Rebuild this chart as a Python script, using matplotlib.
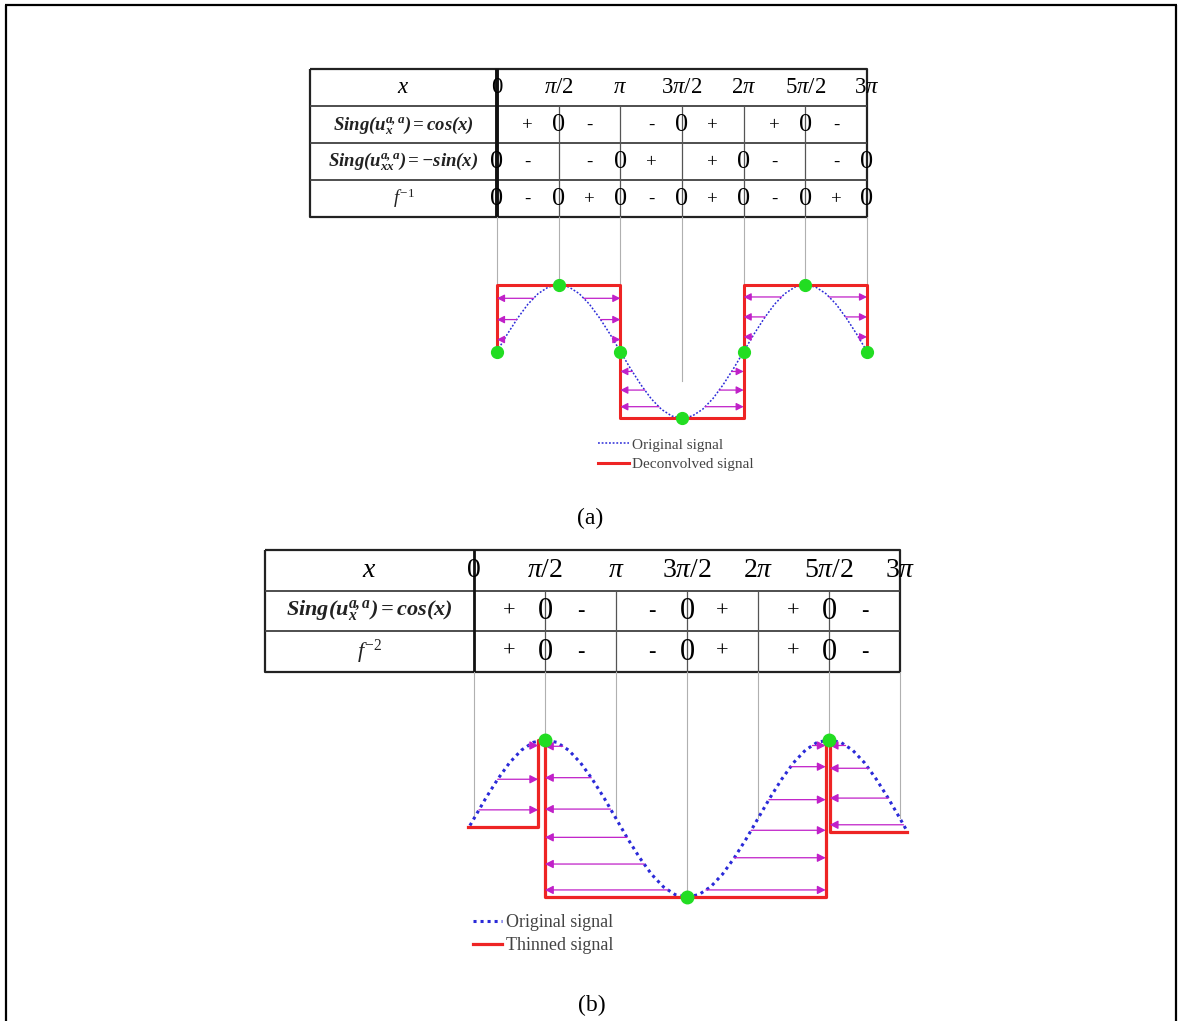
import numpy as np
import matplotlib
matplotlib.use('Agg')
import matplotlib.pyplot as plt

plt.rcParams['font.family'] = ['Liberation Serif', 'DejaVu Serif']
plt.rcParams['mathtext.fontset'] = 'custom'
plt.rcParams['mathtext.rm'] = 'Liberation Serif'
plt.rcParams['mathtext.it'] = 'Liberation Serif:italic'
plt.rcParams['mathtext.bf'] = 'Liberation Serif:bold:italic'

PI = np.pi
W, H = 1178, 1021

# ---------------- data ----------------
tick_pos = [0, PI / 2, PI, 3 * PI / 2, 2 * PI, 5 * PI / 2, 3 * PI]
tick_labels = ['0', r'$\pi/2$', r'$\pi$', r'$3\pi/2$', r'$2\pi$', r'$5\pi/2$', r'$3\pi$']

# sign table entries, positions in units of pi/4
cos_pos = [1, 2, 3, 5, 6, 7, 9, 10, 11]
cos_sym = ['+', '0', '-', '-', '0', '+', '+', '0', '-']
msin_pos = [0, 1, 3, 4, 5, 7, 8, 9, 11, 12]
msin_sym = ['0', '-', '-', '0', '+', '+', '0', '-', '-', '0']
f1_pos = [0, 1, 2, 3, 4, 5, 6, 7, 8, 9, 10, 11, 12]
f1_sym = ['0', '-', '0', '+', '0', '-', '0', '+', '0', '-', '0', '+', '0']
f2_pos = [1, 2, 3, 5, 6, 7, 9, 10, 11]
f2_sym = ['+', '0', '-', '-', '0', '+', '+', '0', '-']

lab_x = r'$x$'
lab_cos = r'$\mathbf{Sing(u}_{\mathbf{x}}^{\mathbf{a,a}}\mathbf{)=cos(x)}$'
lab_msin = r'$\mathbf{Sing(u}_{\mathbf{xx}}^{\mathbf{a,a}}\mathbf{)=-sin(x)}$'
lab_f1 = r'$f^{-1}$'
lab_f2 = r'$f^{-2}$'

# original signal samples (x in units of pi/12)
sig_k = list(range(37))
sig_y = [0, .26, .5, .71, .87, .97, 1, .97, .87, .71, .5, .26,
         0, -.26, -.5, -.71, -.87, -.97, -1, -.97, -.87, -.71, -.5, -.26,
         0, .26, .5, .71, .87, .97, 1, .97, .87, .71, .5, .26, 0]
# panel (b) curve runs slightly past both ends
sigb_start = (-0.09, -0.09)
sigb_end = (9.58, -0.16)

# deconvolved signal (a)
dec_x = [0, 0, PI, PI, 2 * PI, 2 * PI, 3 * PI, 3 * PI]
dec_y = [0, 1, 1, -1, -1, 1, 1, 0]
# thinned signal (b)
thin_x = [-0.13, 1.42, 1.42, 1.57, 1.57, 7.78, 7.78, 7.87, 7.87, 9.58]
thin_y = [-0.11, -0.11, 1, 1, -1, -1, 1, 1, -0.17, -0.17]

# green extremum / zero points
dots_a_x = [0, PI / 2, PI, 3 * PI / 2, 2 * PI, 5 * PI / 2, 3 * PI]
dots_a_y = [0, 1, 0, -1, 0, 1, 0]
dots_b_x = [PI / 2, 3 * PI / 2, 5 * PI / 2]
dots_b_y = [1, -1, 1]

# guide line end values
guide_a_end = [1, 1, 1, -0.45, 1, 1, 1]
guide_b_end = [0, 1, 0, -1, 0, 1, 0]

# arrows: (segment lo, hi, target x, levels)
arrows_a = [
    (0, PI / 2, 0, [0.8, 0.48, 0.18]),
    (PI / 2, PI, PI, [0.8, 0.48, 0.18]),
    (PI, 3 * PI / 2, PI, [-0.3, -0.58, -0.83]),
    (3 * PI / 2, 2 * PI, 2 * PI, [-0.3, -0.58, -0.83]),
    (2 * PI, 5 * PI / 2, 2 * PI, [0.82, 0.52, 0.22]),
    (5 * PI / 2, 3 * PI, 3 * PI, [0.82, 0.52, 0.22]),
]
arrows_b = [
    (0, PI / 2, 1.42, [0.93, 0.5, 0.11]),
    (PI / 2, 3 * PI / 2, 1.57, [0.92, 0.52, 0.12, -0.24, -0.58, -0.91]),
    (3 * PI / 2, 5 * PI / 2, 7.78, [0.93, 0.66, 0.24, -0.15, -0.5, -0.91]),
    (5 * PI / 2, 9.58, 7.87, [0.93, 0.64, 0.26, -0.08]),
]

# ---------------- styling ----------------
BLUE = '#2a2ad8'
RED = '#ee2424'
GREEN = '#22dd22'
MAG = '#c020c8'
GRAY = '#b0b0b0'

fig = plt.figure(figsize=(W / 100, H / 100), dpi=100)
bg = fig.add_axes([0, 0, 1, 1])
bg.set_xlim(0, W)
bg.set_ylim(H, 0)
bg.axis('off')
bg.plot([6, 6], [5, H], color='black', lw=1.6, solid_capstyle='butt')
bg.plot([5, 1177], [5.5, 5.5], color='black', lw=1.6, solid_capstyle='butt')
bg.plot([1176, 1176], [5, H], color='black', lw=1.6, solid_capstyle='butt')
bg.text(590, 518, '(a)', ha='center', va='center', fontsize=17)
bg.text(592, 1005, '(b)', ha='center', va='center', fontsize=17)


def px_axes(x0, y0, x1, y1):
    a = fig.add_axes([x0 / W, 1 - y1 / H, (x1 - x0) / W, (y1 - y0) / H])
    a.axis('off')
    return a


def draw_table(ax, xl0, rows, nrows, fs_head, fs_sign, fs_zero, fs_lab, thick_lw):
    x3 = 3 * PI
    ax.set_xlim(xl0, x3)
    ax.set_ylim(nrows, 0)
    kw = dict(clip_on=False, solid_capstyle='butt')
    ax.plot([xl0, x3, x3, xl0, xl0], [0, 0, nrows, nrows, 0], color='#222222', lw=1.6, **kw)
    for r in range(1, nrows):
        ax.plot([xl0, x3], [r, r], color='#404040', lw=1.3, **kw)
    ax.plot([0, 0], [0, nrows], color='#111111', lw=thick_lw, **kw)
    for t in tick_pos[1:-1]:
        ax.plot([t, t], [1, nrows], color='#555555', lw=0.9, **kw)
    labx = xl0 / 2
    ax.text(labx, 0.5, lab_x, ha='center', va='center', fontsize=fs_head)
    for t, lab in zip(tick_pos, tick_labels):
        ax.text(t, 0.5, lab, ha='center', va='center', fontsize=fs_head, clip_on=False)
    for r, (lab, pos, sym) in enumerate(rows, start=1):
        ax.text(labx, r + 0.5, lab, ha='center', va='center', fontsize=fs_lab,
                color='#222222')
        for p, s in zip(pos, sym):
            ax.text(p * PI / 4, r + 0.52, s, ha='center', va='center',
                    fontsize=fs_zero if s == '0' else fs_sign, clip_on=False)


def cross_x(xs, ys, lo, hi, level):
    m = (xs >= lo - 1e-9) & (xs <= hi + 1e-9)
    sx, sy = xs[m], ys[m]
    if sy[0] > sy[-1]:
        sx, sy = sx[::-1], sy[::-1]
    return np.interp(level, sy, sx)


def draw_arrows(ax, xs, ys, specs, ms):
    for lo, hi, tx, levels in specs:
        for lv in levels:
            sx = cross_x(xs, ys, lo, hi, lv)
            ax.annotate('', xy=(tx, lv), xytext=(sx, lv),
                        arrowprops=dict(arrowstyle='-|>,head_length=0.55,head_width=0.28',
                                        color=MAG, lw=0.9, shrinkA=0, shrinkB=0,
                                        mutation_scale=ms), zorder=3,
                        annotation_clip=False)


# ---------------- panel (a) ----------------
A_X0, A_ZERO, A_END = 310, 497, 867
s_a = (A_END - A_ZERO) / (3 * PI)
xl_a = (A_X0 - A_ZERO) / s_a
tab_a = px_axes(A_X0, 69, A_END, 217)
draw_table(tab_a, xl_a,
           [(lab_cos, cos_pos, cos_sym), (lab_msin, msin_pos, msin_sym), (lab_f1, f1_pos, f1_sym)],
           4, 16.5, 13.5, 19, 13.5, 2.8)

pa = px_axes(A_X0, 217, A_END, 480)
pa.set_xlim(xl_a, 3 * PI)
A_MID, A_AMP = 351.5, 66.5
pa.set_ylim((A_MID - 480) / A_AMP, (A_MID - 217) / A_AMP)
top_a = (A_MID - 217) / A_AMP
for t, e in zip(tick_pos, guide_a_end):
    pa.plot([t, t], [e, top_a], color=GRAY, lw=0.8, zorder=1, clip_on=False)
xa = np.array(sig_k) * PI / 12
ya = np.array(sig_y)
la, = pa.plot(xa, ya, color=BLUE, lw=1.1, ls=(0, (1.2, 1.2)), zorder=2,
              label='Original signal', clip_on=False)
ra, = pa.plot(dec_x, dec_y, color=RED, lw=2.2, zorder=2.5, label='Deconvolved signal',
              clip_on=False)
draw_arrows(pa, xa, ya, arrows_a, 8)
pa.plot(dots_a_x, dots_a_y, 'o', color=GREEN, ms=8.5, zorder=5, clip_on=False)
pa.legend(handles=[la, ra], loc='upper left', bbox_to_anchor=(598 / W, 1 - 438 / H),
          bbox_transform=fig.transFigure, frameon=False, fontsize=11,
          handlelength=2.0, handletextpad=0.2, borderpad=0, borderaxespad=0,
          labelspacing=0.37, labelcolor='#444444')

# ---------------- panel (b) ----------------
B_X0, B_ZERO, B_END = 265, 474, 900
s_b = (B_END - B_ZERO) / (3 * PI)
xl_b = (B_X0 - B_ZERO) / s_b
tab_b = px_axes(B_X0, 550, B_END, 672)
draw_table(tab_b, xl_b,
           [(lab_cos, cos_pos, cos_sym), (lab_f2, f2_pos, f2_sym)],
           3, 20, 16, 22, 16, 2.0)

pb = px_axes(B_X0, 672, B_END, 912)
pb.set_xlim(xl_b, 3 * PI)
B_MID, B_AMP = 818.5, 78.5
pb.set_ylim((B_MID - 912) / B_AMP, (B_MID - 672) / B_AMP)
top_b = (B_MID - 672) / B_AMP
for t, e in zip(tick_pos, guide_b_end):
    pb.plot([t, t], [e, top_b], color=GRAY, lw=0.8, zorder=1, clip_on=False)
xb = np.concatenate([[sigb_start[0]], xa, [sigb_end[0]]])
yb = np.concatenate([[sigb_start[1]], ya, [sigb_end[1]]])
lb, = pb.plot(xb, yb, color=BLUE, lw=2.2, ls=(0, (1, 1.3)), zorder=2,
              label='Original signal', clip_on=False)
rb, = pb.plot(thin_x, thin_y, color=RED, lw=2.3, zorder=2.5, label='Thinned signal',
              clip_on=False)
draw_arrows(pb, xb, yb, arrows_b, 9)
pb.plot(dots_b_x, dots_b_y, 'o', color=GREEN, ms=9, zorder=5, clip_on=False)
pb.legend(handles=[lb, rb], loc='upper left', bbox_to_anchor=(473 / W, 1 - 914 / H),
          bbox_transform=fig.transFigure, frameon=False, fontsize=13,
          handlelength=1.6, handletextpad=0.2, borderpad=0, borderaxespad=0,
          labelspacing=0.33, labelcolor='#444444')

fig.savefig('out.png', dpi=100)
